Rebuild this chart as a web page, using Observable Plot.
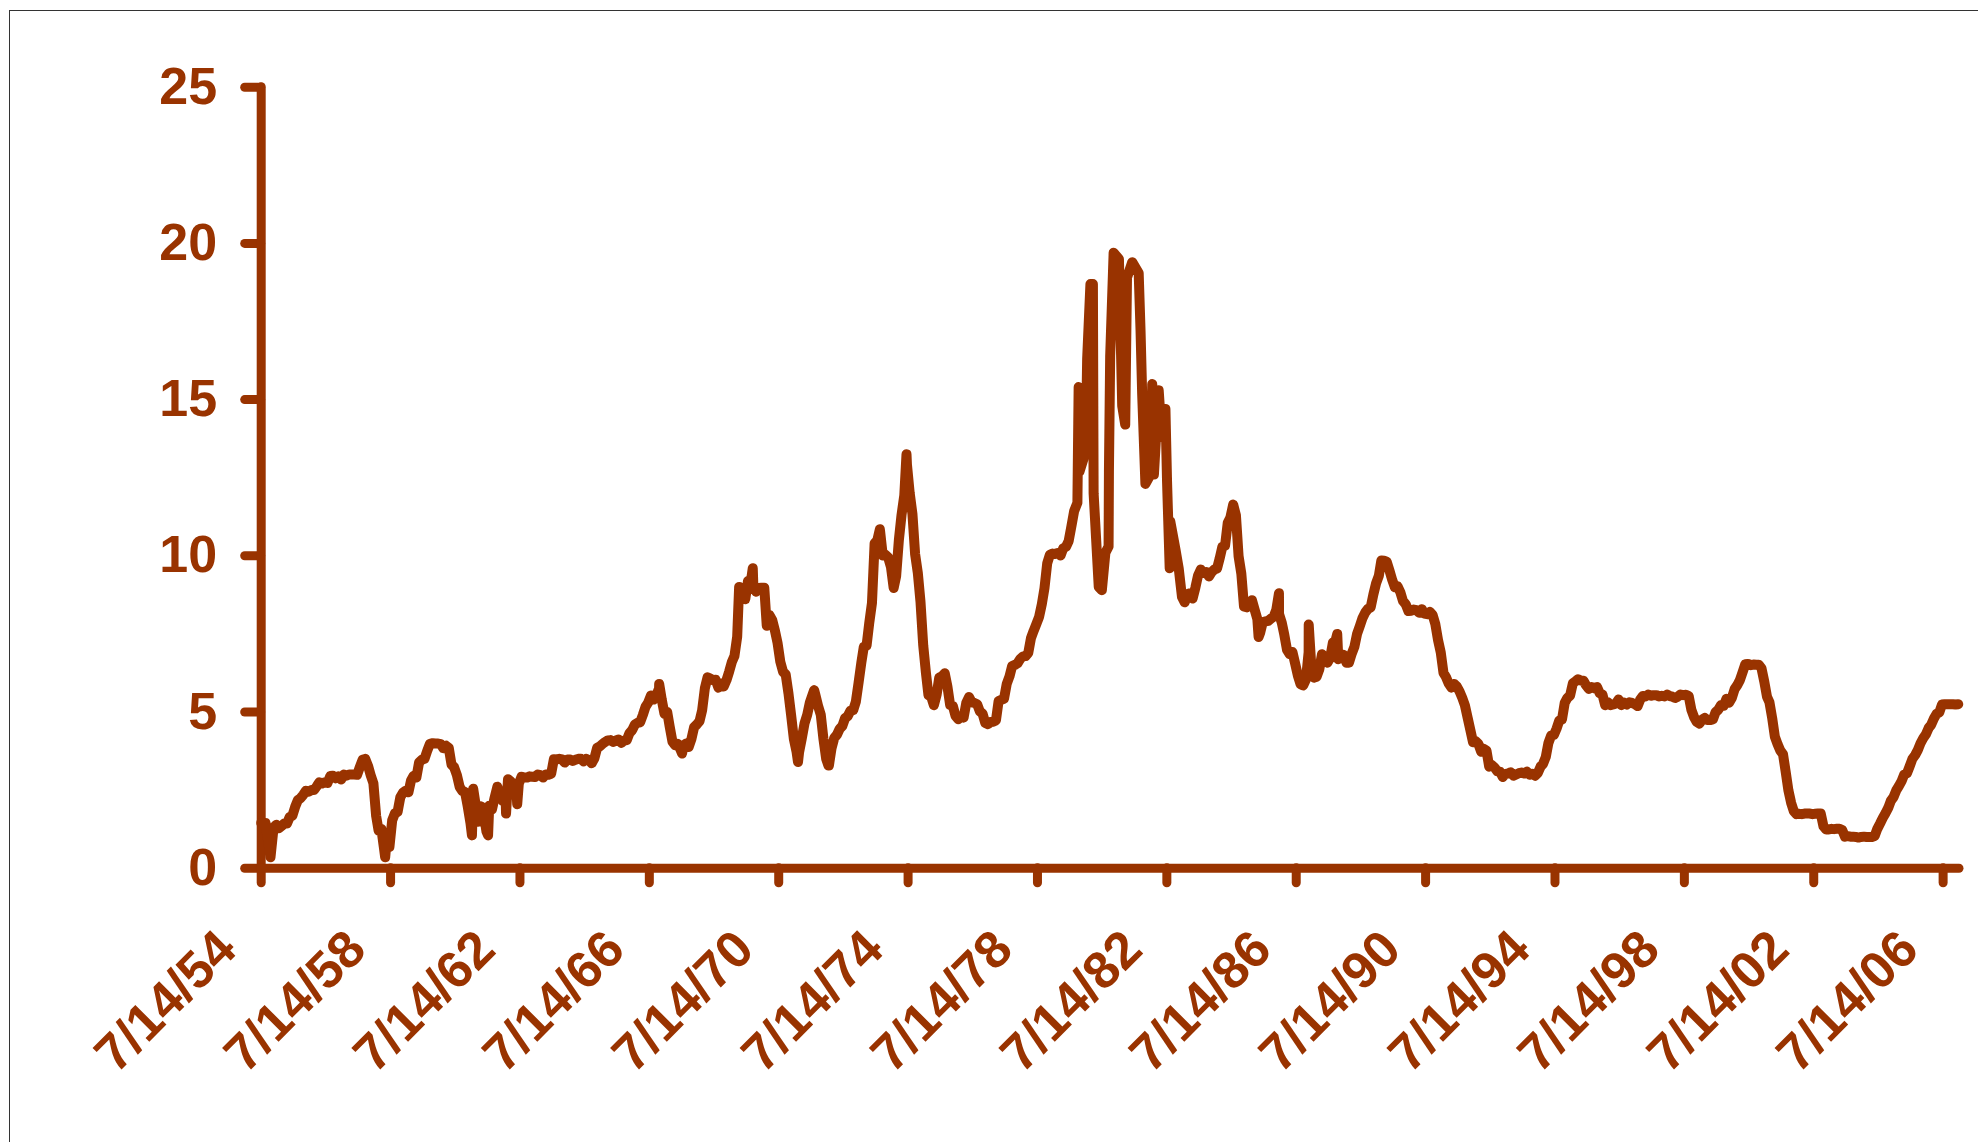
<!DOCTYPE html>
<html><head><meta charset="utf-8">
<script src="https://cdn.jsdelivr.net/npm/d3@7"></script>
<script src="https://cdn.jsdelivr.net/npm/@observablehq/plot@0.6"></script>
<style>
html,body{margin:0;padding:0;background:#fff;overflow:hidden;width:1978px;height:1142px}
#frame{position:absolute;left:9px;top:10px;width:2100px;height:1300px;border:1.5px solid #333;box-sizing:border-box}
#chart{position:absolute;left:0;top:0}
svg [aria-label="x-axis tick"], svg [aria-label="y-axis tick"]{stroke-linecap:round}
</style></head><body><div id="frame"></div><div id="chart"></div>
<script>
// ---- Data (effective fed funds rate, %) ----
// weekly points, 1954
const start1954Dates = ["1954-07-14", "1954-09-01", "1954-10-27", "1954-12-01"];
const start1954Values = [1.45, 1.45, 0.35, 1.3];

// monthly values (placed at the first of each month)
const vals1955to1959 = [
  1.39, 1.29, 1.35, 1.43, 1.43, 1.64, 1.68, 1.96, 2.18, 2.24, 2.35, 2.48,
  2.45, 2.50, 2.50, 2.62, 2.75, 2.71, 2.75, 2.73, 2.95, 2.96, 2.88, 2.94,
  2.84, 3.00, 2.96, 3.00, 3.00, 3.00, 2.99, 3.24, 3.47, 3.50, 3.28, 2.98,
  2.72, 1.67, 1.20, 1.26, 0.63, 0.93, 0.68, 1.53, 1.76, 1.80, 2.27, 2.42,
  2.48, 2.43, 2.80, 2.96, 2.90, 3.39, 3.47, 3.50, 3.76, 3.98, 4.00, 3.99
];
const vals1960s = [
  3.99, 3.97, 3.84, 3.92, 3.85, 3.32, 3.23, 2.98, 2.60, 2.47, 2.44, 1.98,
  1.45, 2.54, 2.02, 1.49, 1.98, 1.73, 1.17, 2.00, 1.88, 2.26, 2.61, 2.33,
  2.15, 2.37, 2.85, 2.78, 2.36, 2.68, 2.71, 2.93, 2.90, 2.90, 2.94, 2.93,
  2.92, 3.00, 2.98, 2.90, 3.00, 2.99, 3.02, 3.49, 3.48, 3.50, 3.48, 3.38,
  3.48, 3.48, 3.43, 3.47, 3.50, 3.50, 3.42, 3.50, 3.45, 3.36, 3.52, 3.85,
  3.90, 3.98, 4.04, 4.09, 4.10, 4.04, 4.09, 4.12, 4.01, 4.08, 4.10, 4.32,
  4.42, 4.60, 4.65, 4.67, 4.90, 5.17, 5.30, 5.53, 5.40, 5.53, 5.76, 5.40,
  4.94, 5.00, 4.53, 4.05, 3.94, 3.98, 3.79, 3.90, 3.99, 3.88, 4.13, 4.51,
  4.60, 4.71, 5.05, 5.76, 6.11, 6.07, 6.02, 6.03, 5.78, 5.91, 5.82, 6.02,
  6.30, 6.61, 6.79, 7.41, 8.67, 8.90, 8.61, 9.19, 9.15, 9.00, 8.85, 8.97
];
const vals1970to1979Sep = [
  8.98, 8.98, 7.76, 8.10, 7.95, 7.61, 7.21, 6.61, 6.29, 6.20, 5.60, 4.90,
  4.14, 3.72, 3.71, 4.16, 4.63, 4.91, 5.31, 5.56, 5.55, 5.20, 4.91, 4.14,
  3.50, 3.29, 3.83, 4.17, 4.27, 4.46, 4.55, 4.80, 4.87, 5.04, 5.06, 5.33,
  5.94, 6.58, 7.09, 7.12, 7.84, 8.49, 10.40, 10.50, 10.78, 10.01, 10.03, 9.95,
  9.65, 8.97, 9.35, 10.51, 11.31, 11.93, 12.92, 12.01, 11.34, 10.06, 9.45, 8.53,
  7.13, 6.24, 5.54, 5.49, 5.22, 5.55, 6.10, 6.14, 6.24, 5.82, 5.22, 5.20,
  4.87, 4.77, 4.84, 4.82, 5.29, 5.48, 5.31, 5.29, 5.25, 5.02, 4.95, 4.65,
  4.61, 4.68, 4.69, 4.73, 5.35, 5.39, 5.42, 5.90, 6.14, 6.47, 6.51, 6.56,
  6.70, 6.78, 6.79, 6.89, 7.36, 7.60, 7.81, 8.04, 8.45, 8.96, 9.76, 10.03,
  10.07, 10.06, 10.09, 10.01, 10.24, 10.29, 10.47, 10.94, 11.43
];
// weekly swings of Oct 1979 - Dec 1982
const volckerDates = [
  "1979-10-08", "1979-10-22", "1979-11-01", "1979-12-15", "1980-01-12", "1980-01-26",
  "1980-03-03", "1980-03-31", "1980-04-08", "1980-06-05", "1980-07-10", "1980-08-19",
  "1980-09-24", "1980-09-28", "1980-10-12", "1980-11-20", "1981-01-19", "1981-02-25",
  "1981-03-31", "1981-04-20", "1981-06-18", "1981-08-30", "1981-09-20", "1981-10-08",
  "1981-11-14", "1982-01-10", "1982-01-30", "1982-02-18", "1982-04-13", "1982-05-18",
  "1982-06-28", "1982-07-16", "1982-08-15", "1982-08-22", "1982-10-20", "1982-11-25"
];
const volckerValues = [
  11.7, 15.4, 12.7, 13.1, 13.8, 16.3,
  18.7, 18.7, 12.0, 9.0, 8.9, 10.1,
  10.3, 12.7, 16.4, 19.7, 19.5, 14.8,
  14.2, 18.9, 19.4, 19.05, 17.2, 15.2,
  12.3, 12.6, 15.5, 12.6, 15.3, 13.8,
  14.7, 12.4, 9.6, 11.1, 10.2, 9.6
];
const vals1983to1989 = [
  8.68, 8.51, 8.77, 8.80, 8.63, 8.98, 9.37, 9.56, 9.45, 9.48, 9.34, 9.47,
  9.56, 9.59, 9.91, 10.29, 10.32, 11.06, 11.23, 11.64, 11.30, 9.99, 9.43, 8.38,
  8.35, 8.50, 8.58, 8.27, 7.97, 7.53, 7.88, 7.90, 7.92, 7.99, 8.05, 8.27,
  8.14, 7.86, 7.48, 6.99, 6.85, 6.92, 6.56, 6.17, 5.89, 5.85, 6.04, 6.91,
  6.43, 6.10, 6.13, 6.37, 6.85, 6.73, 6.58, 6.73, 7.22, 7.29, 6.69, 6.77,
  6.83, 6.58, 6.58, 6.87, 7.09, 7.51, 7.75, 8.01, 8.19, 8.30, 8.35, 8.76,
  9.12, 9.36, 9.85, 9.84, 9.81, 9.53, 9.24, 8.99, 9.02, 8.84, 8.55, 8.45
];
const vals1990s = [
  8.23, 8.24, 8.28, 8.26, 8.18, 8.29, 8.15, 8.13, 8.20, 8.11, 7.81, 7.31,
  6.91, 6.25, 6.12, 5.91, 5.78, 5.90, 5.82, 5.66, 5.45, 5.21, 4.81, 4.43,
  4.03, 4.06, 3.98, 3.73, 3.82, 3.76, 3.25, 3.30, 3.22, 3.10, 3.09, 2.92,
  3.02, 3.03, 3.07, 2.96, 3.00, 3.04, 3.06, 3.03, 3.09, 2.99, 3.02, 2.96,
  3.05, 3.25, 3.34, 3.56, 4.01, 4.25, 4.26, 4.47, 4.73, 4.76, 5.29, 5.45,
  5.53, 5.92, 5.98, 6.05, 6.01, 6.00, 5.85, 5.74, 5.80, 5.76, 5.80, 5.60,
  5.56, 5.22, 5.31, 5.22, 5.24, 5.27, 5.40, 5.22, 5.30, 5.24, 5.31, 5.29,
  5.25, 5.19, 5.39, 5.51, 5.50, 5.56, 5.52, 5.54, 5.54, 5.50, 5.52, 5.50,
  5.56, 5.51, 5.49, 5.45, 5.49, 5.56, 5.54, 5.55, 5.51, 5.07, 4.83, 4.68,
  4.63, 4.76, 4.81, 4.74, 4.74, 4.76, 4.99, 5.07, 5.22, 5.20, 5.42, 5.30
];
const vals2000to2007 = [
  5.45, 5.73, 5.85, 6.02, 6.27, 6.53, 6.54, 6.50, 6.52, 6.51, 6.51, 6.40,
  5.98, 5.49, 5.31, 4.80, 4.21, 3.97, 3.77, 3.65, 3.07, 2.49, 2.09, 1.82,
  1.73, 1.74, 1.73, 1.75, 1.75, 1.75, 1.73, 1.74, 1.75, 1.75, 1.34, 1.24,
  1.24, 1.26, 1.25, 1.26, 1.26, 1.22, 1.01, 1.03, 1.01, 1.01, 1.00, 0.98,
  1.00, 1.01, 1.00, 1.00, 1.00, 1.03, 1.26, 1.43, 1.61, 1.76, 1.93, 2.16,
  2.28, 2.50, 2.63, 2.79, 3.00, 3.04, 3.26, 3.50, 3.62, 3.78, 4.00, 4.16,
  4.29, 4.49, 4.59, 4.79, 4.94, 4.99, 5.24, 5.25, 5.25, 5.25, 5.25, 5.24,
  5.25
];
// weekly extremes visible in the picture
const spikeDates = [
  "1958-05-14", "1961-01-18", "1961-07-19", "1962-02-07", "1962-06-13",
  "1966-11-02", "1967-07-19", "1969-04-23", "1969-09-24", "1971-02-17",
  "1971-08-18", "1972-01-26", "1973-08-29", "1974-06-26", "1985-05-15",
  "1985-12-31", "1986-12-02", "1987-10-20"
];
const spikeValues = [
  0.35, 1.05, 1.05, 1.75, 2.05,
  5.9, 3.67, 9.0, 9.6, 3.4,
  5.7, 3.29, 10.85, 13.25, 7.4,
  8.8, 7.8, 7.5
];
// axes
const yTicks = [0, 5, 10, 15, 20, 25];
const xTickYears = [1954, 1958, 1962, 1966, 1970, 1974, 1978, 1982, 1986, 1990, 1994, 1998, 2002, 2006];
const xStart = "1954-07-14";
const xEnd = "2007-01-15";

// ---- Build ----
const brown = "#993300";
const font = "'Liberation Sans', Arial, Helvetica, sans-serif";
const parse = s => new Date(s + "T00:00:00Z");
const monthly = (y, m, vals) => vals.map((v, i) => ({date: new Date(Date.UTC(y, m - 1 + i, 1)), value: v}));
const pairs = (ds, vs) => ds.map((d, i) => ({date: parse(d), value: vs[i]}));
const series = [
  ...pairs(start1954Dates, start1954Values),
  ...monthly(1955, 1, vals1955to1959),
  ...monthly(1960, 1, vals1960s),
  ...monthly(1970, 1, vals1970to1979Sep),
  ...pairs(volckerDates, volckerValues),
  ...monthly(1983, 1, vals1983to1989),
  ...monthly(1990, 1, vals1990s),
  ...monthly(2000, 1, vals2000to2007),
  ...pairs(spikeDates, spikeValues)
].sort((a, b) => a.date - b.date);

const x0 = parse(xStart), x1 = parse(xEnd);
const xTicks = xTickYears.map(y => new Date(Date.UTC(y, 6, 14)));

const chart = Plot.plot({
  width: 1978, height: 1142,
  marginLeft: 260.7, marginRight: 19, marginTop: 86.7, marginBottom: 274.3,
  style: {fontFamily: font, fontWeight: "bold", fontSize: "52px", color: brown, background: "transparent", overflow: "visible"},
  x: {type: "utc", domain: [x0, x1], label: null},
  y: {domain: [0, 25], label: null},
  marks: [
    Plot.axisY(yTicks, {tickSize: 16, tickPadding: 28, strokeWidth: 9, tickFormat: d => String(d), label: null,
      fontSize: 52, fontWeight: "bold", fontFamily: font, fill: brown, stroke: brown}),
    // x ticks (marks only)
    Plot.axisX(xTicks, {tickSize: 15, strokeWidth: 9, tickFormat: () => "", label: null, stroke: brown}),
    // x tick labels, rotated
    Plot.axisX(xTicks, {tickSize: 0, tickRotate: -45, tickPadding: 72, dx: -34, label: null,
      tickFormat: d3.utcFormat("%-m/%-d/%y"),
      fontSize: 52, fontWeight: "bold", fontFamily: font, fill: brown}),
    Plot.ruleX([x0], {y1: 0, y2: 25, stroke: brown, strokeWidth: 9, strokeLinecap: "round"}),
    Plot.ruleY([0], {x1: x0, x2: x1, stroke: brown, strokeWidth: 9, strokeLinecap: "round"}),
    Plot.line(series, {x: "date", y: "value", stroke: brown, strokeWidth: 10,
      strokeLinejoin: "round", strokeLinecap: "round"})
  ]
});
document.getElementById("chart").appendChild(chart);
</script></body></html>
